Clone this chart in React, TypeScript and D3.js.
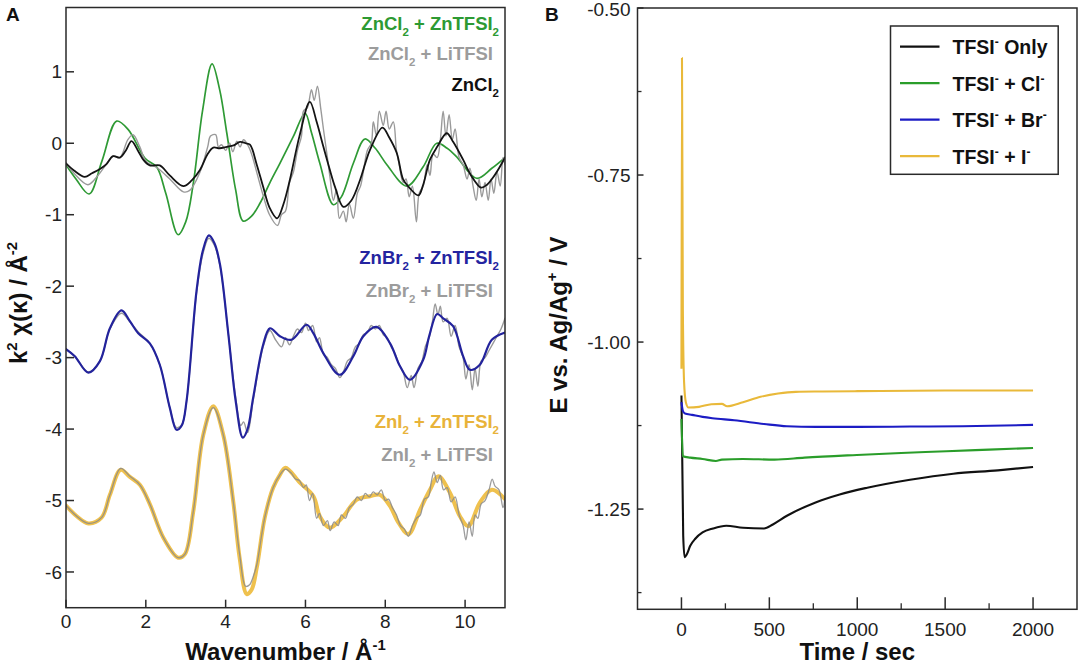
import React from "react";
import * as d3 from "d3";

type Pt = [number, number];

// ---------- Panel A: k^2 chi(k) EXAFS, [k (1/Å), value] ----------
const znCl2ZnTfsi: Pt[] = [
  [0, -0.3], [0.25, -0.5], [0.58, -0.71], [0.9, -0.25], [1.27, 0.31], [1.56, 0.19],
  [1.98, -0.21], [2.27, -0.33], [2.5, -0.7], [2.81, -1.28], [3.0, -1.1], [3.19, -0.56],
  [3.42, 0.45], [3.66, 1.11], [3.85, 0.75], [4.03, 0.14], [4.25, -0.65], [4.44, -1.09],
  [4.65, -1.02], [4.86, -0.84], [5.11, -0.55], [5.36, -0.28], [5.7, 0.1], [5.99, 0.42],
  [6.15, 0.15], [6.36, -0.28], [6.7, -0.86], [6.9, -0.75], [7.2, -0.28], [7.49, 0.06],
  [7.75, -0.07], [8.04, -0.3], [8.54, -0.6], [8.95, -0.33], [9.29, 0.0], [9.55, -0.07],
  [9.79, -0.19], [10.29, -0.49], [10.67, -0.35], [11, -0.2],
];

const znCl2LiTfsi: Pt[] = [
  [0, -0.28], [0.2, -0.42], [0.55, -0.58], [0.8, -0.45], [1.0, -0.3], [1.18, -0.18],
  [1.35, -0.2], [1.55, 0.05], [1.68, 0.12], [1.85, -0.05], [2.0, -0.25], [2.3, -0.35],
  [2.6, -0.5], [2.94, -0.68], [3.1, -0.66], [3.36, -0.4], [3.55, -0.05], [3.62, 0.1],
  [3.75, 0.12], [3.82, -0.05], [3.9, -0.02], [4.0, -0.1], [4.1, 0.0], [4.18, -0.12],
  [4.28, 0.03], [4.36, -0.05], [4.45, 0.05], [4.55, -0.02], [4.65, -0.15], [4.8, -0.45],
  [4.95, -0.75], [5.1, -1.0], [5.3, -1.15], [5.4, -1.0], [5.5, -0.95], [5.6, -0.55],
  [5.7, -0.4], [5.8, -0.1], [5.9, 0.1], [5.95, 0.45], [6.05, 0.5], [6.15, 0.75],
  [6.22, 0.6], [6.3, 0.8], [6.38, 0.5], [6.45, 0.2], [6.55, -0.2], [6.62, -0.5],
  [6.7, -0.8], [6.78, -0.65], [6.85, -1.05], [6.95, -0.95], [7.02, -1.1], [7.1, -0.85],
  [7.2, -1.05], [7.3, -0.7], [7.38, -0.6], [7.45, -0.4], [7.55, -0.1], [7.65, 0.0],
  [7.7, 0.3], [7.78, 0.1], [7.85, 0.45], [7.95, 0.25], [8.02, 0.45], [8.1, 0.2],
  [8.2, 0.3], [8.28, -0.1], [8.35, -0.3], [8.45, -0.55], [8.52, -0.5], [8.6, -0.75],
  [8.68, -0.6], [8.78, -1.1], [8.85, -0.7], [8.95, -0.6], [9.05, -0.3], [9.12, -0.45],
  [9.2, -0.15], [9.3, -0.2], [9.38, 0.05], [9.45, 0.45], [9.52, 0.1], [9.6, 0.4],
  [9.68, 0.05], [9.75, 0.2], [9.85, -0.2], [9.95, -0.3], [10.05, -0.5], [10.12, -0.35],
  [10.2, -0.6], [10.28, -0.8], [10.35, -0.5], [10.42, -0.75], [10.5, -0.55], [10.58, -0.8],
  [10.65, -0.5], [10.72, -0.7], [10.8, -0.4], [10.88, -0.6], [10.95, -0.2], [11, -0.3],
];

const znCl2: Pt[] = [
  [0, -0.28], [0.2, -0.38], [0.47, -0.47], [0.65, -0.42], [0.85, -0.36], [1.0, -0.3],
  [1.18, -0.18], [1.35, -0.2], [1.5, -0.1], [1.64, 0.03], [1.8, -0.1], [1.95, -0.24],
  [2.1, -0.31], [2.35, -0.31], [2.6, -0.45], [2.94, -0.6], [3.15, -0.52], [3.36, -0.37],
  [3.55, -0.15], [3.69, -0.06], [3.85, -0.07], [4.03, -0.05], [4.2, -0.03], [4.36, 0.02],
  [4.5, 0.0], [4.61, -0.02], [4.78, -0.3], [4.94, -0.61], [5.1, -0.9], [5.29, -1.05],
  [5.45, -0.85], [5.61, -0.51], [5.85, 0.1], [6.11, 0.58], [6.28, 0.3], [6.45, -0.05],
  [6.6, -0.35], [6.74, -0.61], [6.95, -0.89], [7.15, -0.8], [7.37, -0.51], [7.5, -0.28],
  [7.62, -0.09], [7.93, 0.22], [8.1, 0.08], [8.29, -0.14], [8.45, -0.51], [8.6, -0.62],
  [8.83, -0.73], [8.95, -0.58], [9.12, -0.23], [9.3, -0.05], [9.54, 0.14], [9.7, 0.02],
  [9.95, -0.23], [10.15, -0.45], [10.4, -0.62], [10.55, -0.58], [10.7, -0.48],
  [10.85, -0.35], [11, -0.2],
];

const znBr2ZnTfsi: Pt[] = [
  [0, -2.88], [0.22, -2.98], [0.56, -3.21], [0.85, -3.05], [1.1, -2.59], [1.39, -2.34],
  [1.6, -2.49], [1.81, -2.66], [2.1, -2.8], [2.35, -3.1], [2.6, -3.7], [2.77, -4.01],
  [2.9, -3.95], [3.02, -3.61], [3.27, -2.07], [3.43, -1.5], [3.58, -1.29], [3.72, -1.4],
  [3.86, -1.7], [4.07, -2.68], [4.25, -3.6], [4.43, -4.12], [4.55, -4.0], [4.69, -3.56],
  [4.94, -2.82], [5.11, -2.59], [5.36, -2.7], [5.65, -2.75], [6.03, -2.54], [6.2, -2.66],
  [6.45, -2.94], [6.86, -3.24], [7.2, -2.98], [7.45, -2.7], [7.78, -2.57], [8.12, -2.8],
  [8.37, -3.12], [8.62, -3.31], [8.95, -3.03], [9.1, -2.7], [9.3, -2.39], [9.45, -2.45],
  [9.7, -2.56], [9.95, -2.98], [10.12, -3.17], [10.37, -3.1], [10.67, -2.75], [11, -2.65],
];

const znBr2LiTfsi: Pt[] = [
  [0, -2.88], [0.22, -2.98], [0.56, -3.2], [0.85, -3.05], [1.1, -2.6], [1.39, -2.38],
  [1.6, -2.5], [1.81, -2.64], [2.1, -2.8], [2.35, -3.1], [2.6, -3.7], [2.77, -3.98],
  [2.9, -3.94], [3.02, -3.62], [3.27, -2.1], [3.43, -1.55], [3.58, -1.33], [3.72, -1.43],
  [3.86, -1.72], [4.07, -2.68], [4.25, -3.55], [4.38, -3.95], [4.45, -3.9], [4.55, -4.05],
  [4.69, -3.6], [4.94, -2.85], [5.11, -2.62], [5.25, -2.75], [5.4, -2.85], [5.5, -2.72],
  [5.6, -2.82], [5.7, -2.7], [5.8, -2.6], [5.9, -2.65], [6.0, -2.52], [6.08, -2.62],
  [6.18, -2.55], [6.28, -2.78], [6.35, -2.72], [6.45, -2.95], [6.55, -3.0], [6.65, -3.1],
  [6.75, -3.15], [6.86, -3.28], [6.95, -3.2], [7.05, -3.05], [7.15, -3.0], [7.25, -2.85],
  [7.35, -2.8], [7.45, -2.68], [7.55, -2.65], [7.65, -2.55], [7.75, -2.6], [7.85, -2.55],
  [7.95, -2.68], [8.05, -2.72], [8.15, -2.85], [8.25, -2.95], [8.35, -3.1], [8.45, -3.2],
  [8.55, -3.42], [8.65, -3.25], [8.72, -3.42], [8.82, -3.15], [8.92, -3.05], [9.0, -2.85],
  [9.1, -2.72], [9.18, -2.5], [9.25, -2.25], [9.32, -2.4], [9.38, -2.28], [9.45, -2.5],
  [9.55, -2.45], [9.65, -2.7], [9.75, -2.55], [9.85, -2.85], [9.95, -3.0], [10.02, -3.3],
  [10.1, -3.1], [10.18, -3.45], [10.25, -3.15], [10.32, -3.4], [10.4, -3.05], [10.5, -3.0],
  [10.6, -2.9], [10.7, -2.8], [10.8, -2.7], [10.9, -2.6], [11, -2.45],
];

const znI2ZnTfsi: Pt[] = [
  [0, -5.07], [0.27, -5.22], [0.56, -5.32], [0.89, -5.24], [1.1, -4.92], [1.37, -4.57],
  [1.6, -4.67], [1.85, -4.78], [2.1, -5.05], [2.44, -5.52], [2.81, -5.8], [2.98, -5.75],
  [3.19, -5.15], [3.44, -4.08], [3.69, -3.68], [3.94, -4.08], [4.19, -5.01], [4.35, -5.8],
  [4.53, -6.31], [4.65, -6.25], [4.78, -5.94], [4.98, -5.24], [5.19, -4.82], [5.36, -4.64],
  [5.5, -4.54], [5.86, -4.75], [6.2, -4.94], [6.36, -5.22], [6.61, -5.38], [6.95, -5.22],
  [7.28, -4.99], [7.62, -4.94], [7.87, -4.92], [8.12, -5.08], [8.33, -5.31], [8.58, -5.47],
  [8.87, -5.13], [9.12, -4.85], [9.33, -4.66], [9.62, -4.89], [9.87, -5.22], [10.08, -5.36],
  [10.37, -5.03], [10.67, -4.85], [11, -4.98],
];

const znI2LiTfsi: Pt[] = [
  [0, -5.07], [0.27, -5.22], [0.56, -5.32], [0.89, -5.24], [1.1, -4.92], [1.37, -4.55],
  [1.6, -4.66], [1.85, -4.78], [2.1, -5.05], [2.44, -5.52], [2.81, -5.8], [2.98, -5.75],
  [3.19, -5.15], [3.44, -4.08], [3.69, -3.7], [3.94, -4.08], [4.19, -5.01], [4.35, -5.75],
  [4.5, -6.2], [4.6, -6.18], [4.7, -6.05], [4.78, -5.9], [4.98, -5.24], [5.19, -4.82],
  [5.36, -4.64], [5.5, -4.56], [5.65, -4.62], [5.75, -4.7], [5.85, -4.72], [5.95, -4.82],
  [6.02, -4.78], [6.1, -5.0], [6.18, -4.9], [6.28, -5.25], [6.35, -5.18], [6.45, -5.35],
  [6.55, -5.28], [6.62, -5.42], [6.72, -5.3], [6.82, -5.35], [6.9, -5.2], [7.0, -5.25],
  [7.1, -5.1], [7.2, -5.05], [7.3, -4.95], [7.4, -5.0], [7.5, -4.9], [7.6, -4.95],
  [7.7, -4.88], [7.8, -4.92], [7.9, -4.85], [8.0, -5.0], [8.08, -4.98], [8.18, -5.1],
  [8.28, -5.2], [8.38, -5.35], [8.48, -5.4], [8.58, -5.5], [8.68, -5.35], [8.78, -5.25],
  [8.88, -5.2], [8.98, -4.98], [9.08, -4.95], [9.15, -4.75], [9.22, -4.6], [9.3, -4.75],
  [9.38, -4.65], [9.46, -4.85], [9.55, -4.82], [9.65, -5.02], [9.75, -4.95], [9.85, -5.2],
  [9.95, -5.35], [10.02, -5.55], [10.1, -5.3], [10.18, -5.5], [10.25, -5.2], [10.32, -5.25],
  [10.4, -5.05], [10.5, -5.0], [10.6, -4.85], [10.68, -4.7], [10.75, -4.8], [10.85, -4.85],
  [10.95, -5.1], [11, -4.95],
];

const kTicks = [0, 2, 4, 6, 8, 10];
const chiTicks = [1, 0, -1, -2, -3, -4, -5, -6];

// ---------- Panel B: potential vs time, [t (s), E (V)] ----------
const tfsiOnly: Pt[] = [
  [0, -1.08], [10, -1.29], [18, -1.322], [30, -1.318], [50, -1.305], [80, -1.294],
  [120, -1.285], [180, -1.279], [255, -1.275], [350, -1.278], [470, -1.279], [520, -1.273],
  [600, -1.26], [763, -1.24], [900, -1.228], [1057, -1.218], [1300, -1.206], [1546, -1.197],
  [1800, -1.192], [2000, -1.187],
];
const tfsiCl: Pt[] = [
  [0, -1.115], [8, -1.171], [50, -1.173], [120, -1.175], [196, -1.178], [230, -1.176],
  [350, -1.175], [529, -1.176], [700, -1.173], [998, -1.169], [1250, -1.166],
  [1507, -1.1635], [1750, -1.161], [2000, -1.1585],
];
const tfsiBr: Pt[] = [
  [0, -1.09], [8, -1.103], [20, -1.107], [60, -1.109], [120, -1.112], [176, -1.114],
  [300, -1.117], [470, -1.1226], [600, -1.126], [763, -1.127], [1000, -1.127],
  [1300, -1.1265], [1600, -1.126], [2000, -1.124],
];
const tfsiI: Pt[] = [
  [0, -1.04], [3, -0.575], [8, -0.95], [15, -1.06], [25, -1.09], [40, -1.098], [100, -1.097],
  [170, -1.093], [230, -1.0925], [260, -1.096], [350, -1.09], [450, -1.082], [550, -1.077],
  [650, -1.0745], [800, -1.074], [1000, -1.0735], [1500, -1.0725], [2000, -1.0725],
];

const timeTicks = [0, 500, 1000, 1500, 2000];
const timeMinor = [250, 750, 1250, 1750];
const eTicks = [-0.5, -0.75, -1.0, -1.25];
const eMinor = [-0.625, -0.875, -1.125, -1.375];

const FONT = "'Liberation Sans', Arial, Helvetica, sans-serif";

type Seg = { t: string; s?: "sub" | "sup" };

function Rich({ x, y, segs, size, anchor = "start", weight = 700, fill = "#111" }: {
  x: number; y: number; segs: Seg[]; size: number; anchor?: string; weight?: number; fill?: string;
}) {
  let shift = 0;
  return (
    <text x={x} y={y} fontSize={size} textAnchor={anchor} fontWeight={weight} fill={fill} fontFamily={FONT}>
      {segs.map((g, i) => {
        const target = g.s === "sub" ? size * 0.3 : g.s === "sup" ? -size * 0.42 : 0;
        const dy = target - shift;
        shift = target;
        return (
          <tspan key={i} dy={dy} fontSize={g.s ? size * 0.62 : size}>
            {g.t}
          </tspan>
        );
      })}
    </text>
  );
}

const sub = (t: string): Seg => ({ t, s: "sub" });
const sup = (t: string): Seg => ({ t, s: "sup" });
const n = (t: string): Seg => ({ t });

export default function App() {
  // panel A scales
  const xA = d3.scaleLinear().domain([0, 11]).range([66, 505]);
  const yA = d3.scaleLinear().domain([-6.5, 1.9]).range([607.7, 7.5]);
  const lineA = d3
    .line<Pt>()
    .x((d) => xA(d[0]))
    .y((d) => yA(d[1]))
    .curve(d3.curveCatmullRom.alpha(0.5));

  // panel B scales
  const xB = d3.scaleLinear().domain([-250, 2250]).range([637.5, 1077]);
  const yB = d3.scaleLinear().domain([-1.4, -0.5]).range([609.3, 8]);
  const lineB = d3
    .line<Pt>()
    .x((d) => xB(d[0]))
    .y((d) => yB(d[1]))
    .curve(d3.curveMonotoneX);

  const axisColor = "#2a2a2a";

  const legendB = [
    { segs: [n("TFSI"), sup("-"), n(" Only")], color: "#111111" },
    { segs: [n("TFSI"), sup("-"), n(" + Cl"), sup("-")], color: "#2a9d2a" },
    { segs: [n("TFSI"), sup("-"), n(" + Br"), sup("-")], color: "#1c1cc4" },
    { segs: [n("TFSI"), sup("-"), n(" + I"), sup("-")], color: "#e9b93a" },
  ];
  const seriesB = [tfsiOnly, tfsiCl, tfsiBr, tfsiI];

  return (
    <svg width={1080} height={664} style={{ position: "absolute", left: 0, top: 0, background: "#fff" }}>
      <defs>
        <clipPath id="clipA">
          <rect x={xA(0)} y={yA(1.9)} width={xA(11) - xA(0)} height={yA(-6.5) - yA(1.9)} />
        </clipPath>
        <clipPath id="clipB">
          <rect x={xB(-250)} y={yB(-0.5)} width={xB(2250) - xB(-250)} height={yB(-1.4) - yB(-0.5)} />
        </clipPath>
      </defs>

      {/* ================= Panel A ================= */}
      <text x={6} y={21} fontSize={19} fontWeight={700} fontFamily={FONT} fill="#111">A</text>

      <g clipPath="url(#clipA)" fill="none" strokeLinejoin="round" strokeLinecap="round">
        <path d={lineA(znCl2ZnTfsi) || ""} stroke="#2f9a35" strokeWidth={1.7} />
        <path d={lineA(znCl2LiTfsi) || ""} stroke="#9a9a9a" strokeWidth={1.4} />
        <path d={lineA(znCl2) || ""} stroke="#141414" strokeWidth={1.8} />

        <path d={lineA(znBr2LiTfsi) || ""} stroke="#9a9a9a" strokeWidth={1.4} />
        <path d={lineA(znBr2ZnTfsi) || ""} stroke="#23239c" strokeWidth={2.2} />

        <path d={lineA(znI2ZnTfsi) || ""} stroke="#efc14e" strokeWidth={4} />
        <path d={lineA(znI2LiTfsi) || ""} stroke="#8b8b8b" strokeWidth={1.3} opacity={0.85} />
      </g>

      {/* frame A */}
      <rect x={xA(0)} y={yA(1.9)} width={xA(11) - xA(0)} height={yA(-6.5) - yA(1.9)}
        fill="none" stroke={axisColor} strokeWidth={1.5} />
      {chiTicks.map((v) => (
        <g key={"ya" + v}>
          <line x1={xA(0)} x2={xA(0) + 8} y1={yA(v)} y2={yA(v)} stroke={axisColor} strokeWidth={1.5} />
          <text x={xA(0) - 4} y={yA(v)} dy="0.35em" textAnchor="end" fontSize={19} fontFamily={FONT} fill="#222">
            {v}
          </text>
        </g>
      ))}
      {kTicks.map((k) => (
        <g key={"xa" + k}>
          <line x1={xA(k)} x2={xA(k)} y1={yA(-6.5)} y2={yA(-6.5) - 8} stroke={axisColor} strokeWidth={1.5} />
          <text x={xA(k)} y={628} textAnchor="middle" fontSize={19} fontFamily={FONT} fill="#222">
            {k}
          </text>
        </g>
      ))}
      <Rich x={(xA(0) + xA(11)) / 2} y={660} anchor="middle" size={24}
        segs={[n("Wavenumber / Å"), sup("-1")]} />
      <g transform="translate(27,303) rotate(-90)">
        <Rich x={0} y={0} anchor="middle" size={24}
          segs={[n("k"), sup("2"), n(" χ(κ) / Å"), sup("-2")]} />
      </g>

      {/* curve labels */}
      <Rich x={499} y={30} anchor="end" size={18.5} fill="#2d9a33"
        segs={[n("ZnCl"), sub("2"), n(" + ZnTFSI"), sub("2")]} />
      <Rich x={493} y={60} anchor="end" size={18.5} fill="#9c9c9c"
        segs={[n("ZnCl"), sub("2"), n(" + LiTFSI")]} />
      <Rich x={499} y={91} anchor="end" size={18.5} fill="#111"
        segs={[n("ZnCl"), sub("2")]} />
      <Rich x={499} y={264} anchor="end" size={18.5} fill="#2424a0"
        segs={[n("ZnBr"), sub("2"), n(" + ZnTFSI"), sub("2")]} />
      <Rich x={493} y={297} anchor="end" size={18.5} fill="#9c9c9c"
        segs={[n("ZnBr"), sub("2"), n(" + LiTFSI")]} />
      <Rich x={499} y={428} anchor="end" size={18.5} fill="#e8b33a"
        segs={[n("ZnI"), sub("2"), n(" + ZnTFSI"), sub("2")]} />
      <Rich x={493} y={461} anchor="end" size={18.5} fill="#9c9c9c"
        segs={[n("ZnI"), sub("2"), n(" + LiTFSI")]} />

      {/* ================= Panel B ================= */}
      <text x={545} y={21} fontSize={19} fontWeight={700} fontFamily={FONT} fill="#111">B</text>

      <g clipPath="url(#clipB)" fill="none" strokeLinejoin="round">
        {seriesB.map((s, i) => (
          <path key={i} d={lineB(s) || ""} stroke={legendB[i].color} strokeWidth={2.1} />
        ))}
      </g>

      <rect x={xB(-250)} y={yB(-0.5)} width={xB(2250) - xB(-250)} height={yB(-1.4) - yB(-0.5)}
        fill="none" stroke={axisColor} strokeWidth={1.5} />
      {eTicks.map((v) => (
        <g key={"yb" + v}>
          <line x1={xB(-250)} x2={xB(-250) + 6} y1={yB(v)} y2={yB(v)} stroke={axisColor} strokeWidth={1.5} />
          <text x={xB(-250) - 7} y={Math.max(yB(v) + 6.5, 16)} textAnchor="end" fontSize={19} fontFamily={FONT} fill="#222">
            {v.toFixed(2)}
          </text>
        </g>
      ))}
      {eMinor.map((v) => (
        <line key={"ybm" + v} x1={xB(-250)} x2={xB(-250) + 4} y1={yB(v)} y2={yB(v)} stroke={axisColor} strokeWidth={1.3} />
      ))}
      {timeTicks.map((t) => (
        <g key={"xb" + t}>
          <line x1={xB(t)} x2={xB(t)} y1={yB(-1.4)} y2={yB(-1.4) - 12} stroke={axisColor} strokeWidth={1.5} />
          <text x={xB(t)} y={636} textAnchor="middle" fontSize={19} fontFamily={FONT} fill="#222">
            {t}
          </text>
        </g>
      ))}
      {timeMinor.map((t) => (
        <line key={"xbm" + t} x1={xB(t)} x2={xB(t)} y1={yB(-1.4)} y2={yB(-1.4) - 6} stroke={axisColor} strokeWidth={1.3} />
      ))}
      <text x={xB(1000)} y={660} textAnchor="middle" fontSize={24} fontWeight={700} fontFamily={FONT} fill="#111">
        Time / sec
      </text>
      <g transform="translate(567,325) rotate(-90)">
        <Rich x={0} y={0} anchor="middle" size={24}
          segs={[n("E vs. Ag/Ag"), sup("+"), n(" / V")]} />
      </g>

      {/* legend B */}
      <rect x={890.5} y={26} width={167.7} height={148.3} fill="#fff" stroke={axisColor} strokeWidth={1.5} />
      {legendB.map((l, i) => {
        const cy = 46.7 + i * 36.5;
        return (
          <g key={"lg" + i}>
            <line x1={900} x2={939.5} y1={cy} y2={cy} stroke={l.color} strokeWidth={2.2} />
            <Rich x={952.5} y={cy + 7.5} size={19.5} segs={l.segs} />
          </g>
        );
      })}
    </svg>
  );
}
